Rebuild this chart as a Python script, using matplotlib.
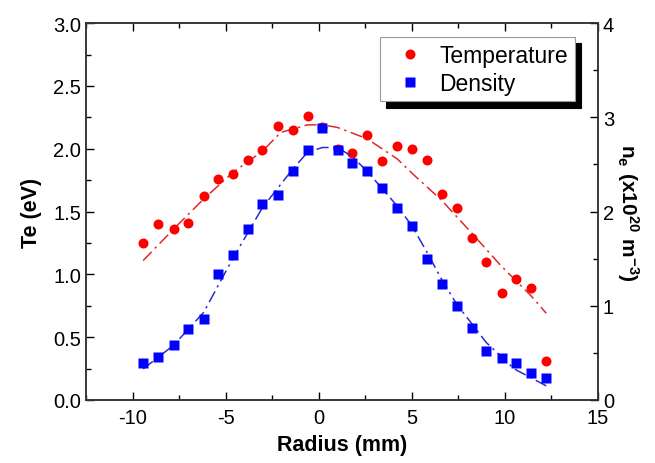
import matplotlib
matplotlib.use("Agg")
import matplotlib.pyplot as plt
from matplotlib.ticker import MultipleLocator

plt.rcParams['font.family'] = ['Liberation Sans', 'DejaVu Sans']
plt.rcParams['axes.unicode_minus'] = False
plt.rcParams['mathtext.fontset'] = 'custom'
plt.rcParams['mathtext.rm'] = 'Liberation Sans'
plt.rcParams['mathtext.bf'] = 'Liberation Sans:bold'

# measured points
radius = [-9.43, -8.62, -7.80, -7.03, -6.18, -5.43, -4.62, -3.80, -3.03, -2.19,
          -1.40, -0.59, 0.20, 1.02, 1.81, 2.59, 3.39, 4.21, 5.00, 5.81,
          6.60, 7.40, 8.21, 9.00, 9.82, 10.59, 11.40, 12.22]
temperature = [1.25, 1.40, 1.36, 1.41, 1.62, 1.76, 1.80, 1.91, 1.99, 2.18,
               2.15, 2.26, 2.17, 2.00, 1.97, 2.11, 1.90, 2.02, 2.00, 1.91,
               1.64, 1.53, 1.29, 1.10, 0.85, 0.96, 0.89, 0.31]
density = [0.39, 0.46, 0.58, 0.75, 0.86, 1.34, 1.54, 1.81, 2.08, 2.18,
           2.43, 2.65, 2.89, 2.65, 2.52, 2.43, 2.25, 2.04, 1.85, 1.50,
           1.23, 1.00, 0.76, 0.52, 0.45, 0.39, 0.29, 0.23]

# fit curves
t_fit_x = [-9.43, -7.80, -6.18, -4.62, -3.03, -2.04, -0.61, 0.20, 1.00, 2.59,
           4.21, 5.12, 6.60, 8.21, 9.78, 11.40, 12.22]
t_fit_y = [1.11, 1.36, 1.60, 1.81, 1.98, 2.13, 2.19, 2.19, 2.17, 2.08,
           1.92, 1.79, 1.59, 1.33, 1.07, 0.83, 0.69]
n_fit_x = [-9.43, -7.80, -6.18, -4.62, -3.03, -1.40, -0.59, 0.20, 1.02, 1.81,
           2.59, 4.21, 5.00, 5.81, 6.60, 7.40, 9.00, 10.50, 12.22]
n_fit_y = [0.33, 0.58, 0.93, 1.50, 2.04, 2.45, 2.63, 2.68, 2.68, 2.58,
           2.43, 2.06, 1.85, 1.57, 1.28, 1.02, 0.61, 0.33, 0.15]

fig = plt.figure(figsize=(6.55, 4.64), dpi=100)
ax = fig.add_axes([0.1313, 0.1358, 0.7817, 0.8122])
ax2 = ax.twinx()

ax.plot(t_fit_x, t_fit_y, color='#dd2a2a', lw=1.1, dashes=(8, 3, 1.5, 3))
ax.plot(radius, temperature, 'o', color='#ff0000', ms=7.2, mec='none',
        label='Temperature')
ax2.plot(n_fit_x, n_fit_y, color='#2a2ad0', lw=1.1, dashes=(8, 3, 1.5, 3))
ax2.plot(radius, density, 's', color='#0000ff', ms=6.5, mec='none',
         label='Density')

ax.set_xlim(-12.5, 15)
ax.set_ylim(0, 3.0)
ax2.set_ylim(0, 4)

ax.xaxis.set_major_locator(MultipleLocator(5))
ax.xaxis.set_minor_locator(MultipleLocator(2.5))
ax.yaxis.set_major_locator(MultipleLocator(0.5))
ax.yaxis.set_minor_locator(MultipleLocator(0.25))
ax2.yaxis.set_major_locator(MultipleLocator(1))
ax2.yaxis.set_minor_locator(MultipleLocator(0.5))
ax.yaxis.set_major_formatter(plt.FormatStrFormatter('%.1f'))

ax.tick_params(axis='x', which='both', direction='in', top=True, labelsize=14.5,
               pad=6)
ax.tick_params(axis='y', which='both', direction='in', right=False,
               labelsize=14.5)
ax2.tick_params(axis='y', which='both', direction='in', labelsize=14.5)
for a in (ax, ax2):
    a.tick_params(which='major', length=6, width=1)
    a.tick_params(which='minor', length=3.5, width=1)
    for s in a.spines.values():
        s.set_linewidth(1.1)
        s.set_color('#333333')

ax.set_xlabel('Radius (mm)', fontsize=15.5, fontweight='bold', labelpad=5)
ax.set_ylabel('Te (eV)', fontsize=15.5, fontweight='bold', labelpad=8)
ax2.set_ylabel(r'$\mathbf{n_e\ (x10^{20}\ m^{-3})}$', fontsize=15,
               rotation=270, labelpad=19)

h1, l1 = ax.get_legend_handles_labels()
h2, l2 = ax2.get_legend_handles_labels()
leg = ax2.legend(h1 + h2, l1 + l2, loc='upper right',
                 bbox_to_anchor=(0.955, 0.963), fontsize=16.5, frameon=True,
                 fancybox=False, handlelength=2.0, handletextpad=0.3,
                 borderpad=0.3, labelspacing=0.2, borderaxespad=0,
                 shadow={'ox': 4.5, 'oy': -4.5, 'facecolor': 'black',
                         'edgecolor': 'black', 'alpha': 1})
leg.get_frame().set_edgecolor('#999999')
leg.get_frame().set_linewidth(0.8)

fig.savefig('out.png', dpi=100)
